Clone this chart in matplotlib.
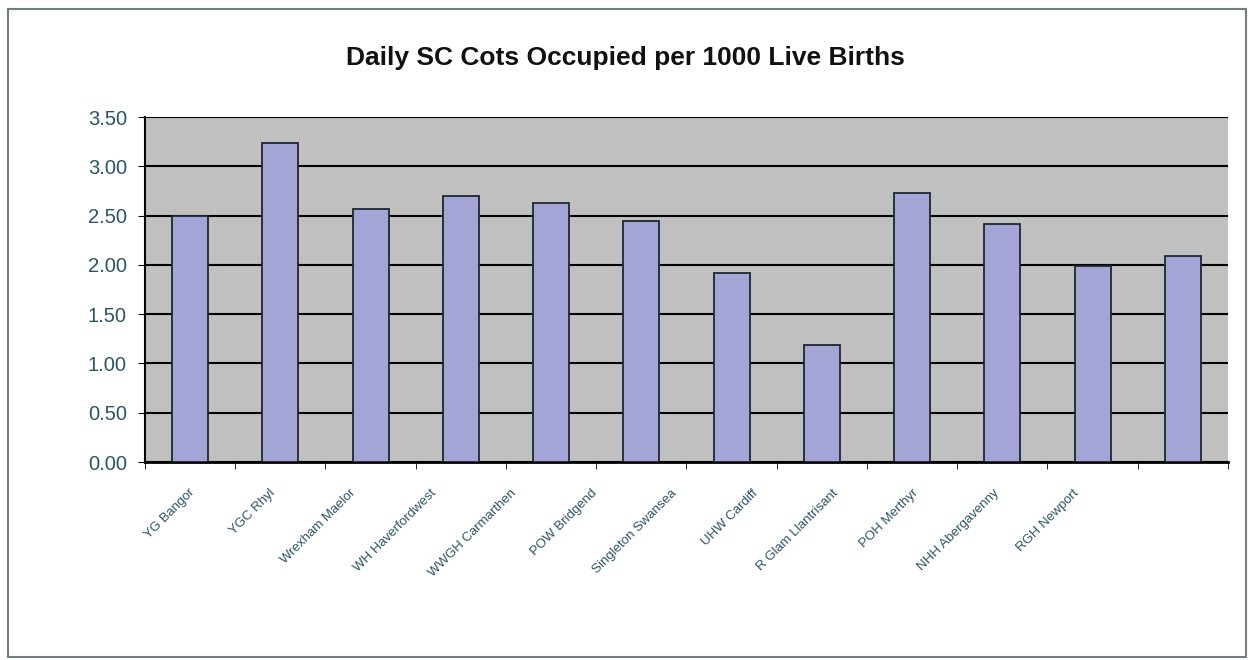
from matplotlib import pyplot as plt
from matplotlib.patches import Rectangle
import numpy as np

# Data
units = ["YG Bangor", "YGC Rhyl", "Wrexham Maelor", "WH Haverfordwest",
         "WWGH Carmarthen", "POW Bridgend", "Singleton Swansea", "UHW Cardiff",
         "R Glam Llantrisant", "POH Merthyr", "NHH Abergavenny", "RGH Newport"]
cots = [2.50, 3.24, 2.57, 2.70, 2.63, 2.44, 1.92, 1.19, 2.73, 2.41, 1.99, 2.09]
yticks = [0.0, 0.5, 1.0, 1.5, 2.0, 2.5, 3.0, 3.5]

plt.rcParams['font.family'] = ['Liberation Sans', 'DejaVu Sans']

fig = plt.figure(figsize=(12.51, 6.6), dpi=100)
ax = fig.add_axes([0.1159, 0.30, 0.8657, 0.5227])

# Outer chart border
fig.patches.append(Rectangle((0.006, 0.005), 0.99, 0.982, transform=fig.transFigure,
                             fill=False, edgecolor="#6f7f80", linewidth=1.5))

x = np.arange(len(units))
ax.set_facecolor("#c0c0c0")
ax.set_axisbelow(True)
ax.yaxis.grid(True, color="black", linewidth=1.5)
ax.bar(x, cots, width=0.4, color="#a4a4d6", edgecolor="#1a2a30", linewidth=1.3, zorder=3)

ax.set_xlim(-0.5, len(units) - 0.5)
ax.set_ylim(0, 3.5)
ax.set_yticks(yticks)
ax.set_yticklabels([f"{v:.2f}" for v in yticks], fontsize=14.5, color="#2a5566")

# Category labels: in the original they sit on a slightly tighter spacing
# than the bars, drifting left across the axis
label_pos = x * 0.891 + 0.03
ax.set_xticks(label_pos)
ax.set_xticklabels(units, rotation=45, ha="right", va="center", rotation_mode="anchor",
                   fontsize=9.5, color="#2a5566")
ax.tick_params(axis="x", length=0, pad=21)
ax.set_xticks(np.arange(-0.5, len(units)), minor=True)
ax.tick_params(axis="x", which="minor", length=5, color="black")
ax.tick_params(axis="y", length=5, color="black", pad=8)

for side in ["top", "right"]:
    ax.spines[side].set_visible(False)
ax.spines["left"].set_linewidth(1.5)
ax.spines["bottom"].set_linewidth(2)

fig.text(0.5, 0.912, "Daily SC Cots Occupied per 1000 Live Births",
         ha="center", va="center", fontsize=19, fontweight="bold", color="#111111")

plt.savefig("out.png", dpi=100)
